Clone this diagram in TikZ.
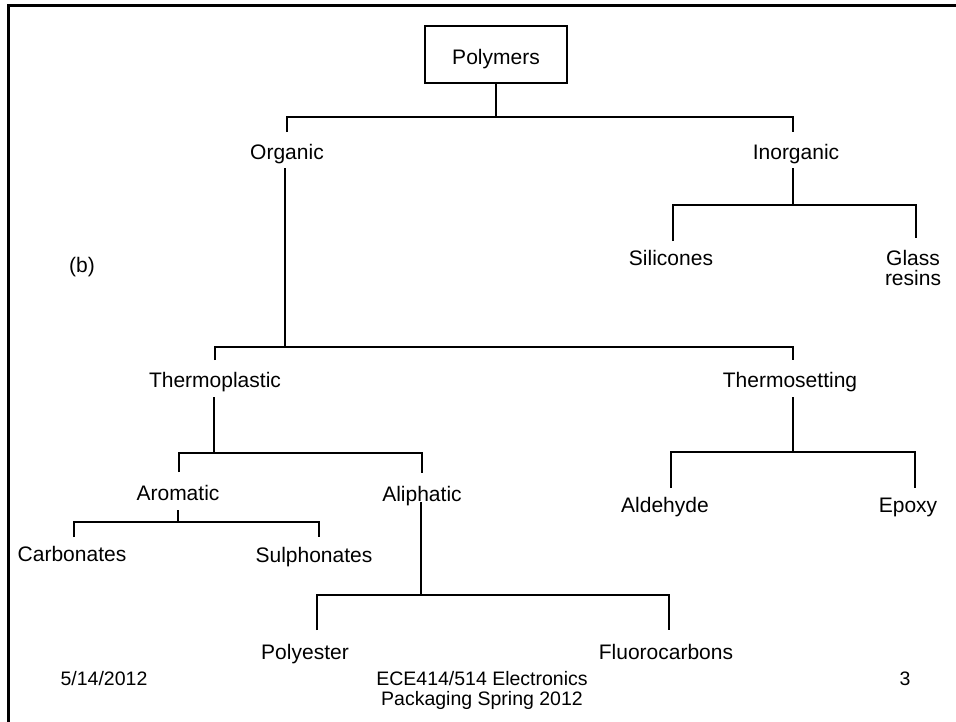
\documentclass[tikz,border=0pt]{standalone}
\usepackage{fontspec}
\setmainfont{Liberation Sans}
\begin{document}
\begin{tikzpicture}[x=1pt,y=-1pt,
  lbl/.style={inner sep=0pt, font=\fontsize{21}{21}\selectfont, text height=15pt, text depth=0pt},
  lbl2/.style={inner sep=0pt, font=\fontsize{21}{20}\selectfont, align=center, anchor=north},
  foot/.style={inner sep=0pt, font=\fontsize{19.5}{20}\selectfont, text height=14pt, text depth=0pt},
  foot2/.style={inner sep=0pt, font=\fontsize{19.5}{20}\selectfont, align=center, anchor=north},
  rootbox/.style={draw, line width=1.8pt, inner sep=0pt, minimum width=142pt, minimum height=57pt,
    font=\fontsize{21}{21}\selectfont, text height=20pt, text depth=0pt},
  tree/.style={line width=1.6pt, line cap=butt},
  frame/.style={line width=3pt, line join=miter}]
\useasboundingbox (0,0) rectangle (956,721);
% slide frame (top and left edges visible)
\draw[frame] (8,730) -- (8,5.5) -- (965,5.5);

% nodes
\node[rootbox] (poly) at (496,54.5) {Polymers};
\node[lbl] (org) at (287,152) {Organic};
\node[lbl] (inorg) at (796,152) {Inorganic};
\node[lbl] (sil) at (671,258) {Silicones};
\node[lbl2] (glass) at (913,250.5) {Glass\\resins};
\node[lbl] (bl) at (82,265) {(b)};
\node[lbl] (tp) at (215,380) {Thermoplastic};
\node[lbl] (ts) at (790,380) {Thermosetting};
\node[lbl] (aro) at (178,493) {Aromatic};
\node[lbl] (ali) at (422,494) {Aliphatic};
\node[lbl] (ald) at (665,505) {Aldehyde};
\node[lbl] (epo) at (908,505) {Epoxy};
\node[lbl] (carb) at (72,554) {Carbonates};
\node[lbl] (sulph) at (314,555) {Sulphonates};
\node[lbl] (pe) at (305,652) {Polyester};
\node[lbl] (fc) at (666,652) {Fluorocarbons};

% footer
\node[foot] (date) at (104,678) {5/14/2012};
\node[foot2] (title) at (482,671) {ECE414/514 Electronics\\Packaging Spring 2012};
\node[foot] (pg) at (905,678) {3};

% junction points
\coordinate (j1) at (496,117);
\coordinate (j2) at (285,347);
\coordinate (j3) at (793,205);
\coordinate (j4) at (214,453);
\coordinate (j5) at (793,452);
\coordinate (j6) at (178,522);
\coordinate (j7) at (421,595);

% connectors
\draw[tree] (poly.south) -- (j1);
\draw[tree] ([shift={(0,-20)}]org.center) |- (j1) -| ([shift={(-3,-20)}]inorg.center);

\draw[tree] ([shift={(-2,16)}]org.center) -- (j2);
\draw[tree] ([shift={(0,-20)}]tp.center) |- (j2) -| ([shift={(3,-20)}]ts.center);

\draw[tree] ([shift={(-3,16)}]inorg.center) -- (j3);
\draw[tree] ([shift={(2,-17)}]sil.center) |- (j3) -| ([shift={(3,-13)}]glass.north);

\draw[tree] ([shift={(-1,17)}]tp.center) -- (j4);
\draw[tree] ([shift={(1,-21)}]aro.center) |- (j4) -| ([shift={(0,-21)}]ali.center);

\draw[tree] ([shift={(3,17)}]ts.center) -- (j5);
\draw[tree] ([shift={(6,-17)}]ald.center) |- (j5) -| ([shift={(7,-17)}]epo.center);

\draw[tree] ([shift={(0,17)}]aro.center) -- (j6);
\draw[tree] ([shift={(2,-17)}]carb.center) |- (j6) -| ([shift={(5,-18)}]sulph.center);

\draw[tree] ([shift={(-1,8)}]ali.center) -- (j7);
\draw[tree] ([shift={(12,-22)}]pe.center) |- (j7) -| ([shift={(3,-22)}]fc.center);
\end{tikzpicture}
\end{document}
